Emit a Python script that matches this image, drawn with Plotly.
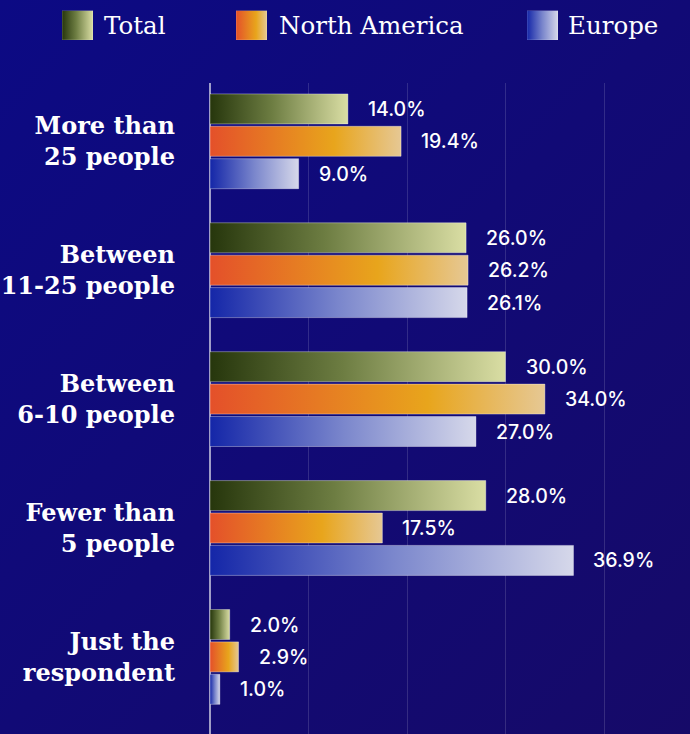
import base64
import plotly.graph_objects as go

# Survey: team size of respondents (share of respondents, %)
categories = [
    "More than<br>25 people",
    "Between<br>11-25 people",
    "Between<br>6-10 people",
    "Fewer than<br>5 people",
    "Just the<br>respondent",
]
series_names = ["Total", "North America", "Europe"]
total = [14.0, 26.0, 30.0, 28.0, 2.0]
north_america = [19.4, 26.2, 34.0, 17.5, 2.9]
europe = [9.0, 26.1, 27.0, 36.9, 1.0]

series_values = [total, north_america, europe]
gradients = [
    [[0.0, "#26360c"], [0.45, "#6d7d42"], [1.0, "#dadea4"]],
    [[0.0, "#e4502a"], [0.65, "#e8a51c"], [1.0, "#e6c894"]],
    [[0.0, "#1426a8"], [0.5, "#7a86cc"], [1.0, "#d6d8ea"]],
]

W, H = 690, 734
M_L, M_T, M_R, M_B = 210, 83, 0, 0
PLOT_W, PLOT_H = W - M_L - M_R, H - M_T - M_B

GROUP_PX = 128.9      # pixels per category group
FIRST_PX = 141.3      # pixel row of the first group's centre
BAR_OFFSET = 32.4 / GROUP_PX   # vertical offset of each series inside a group
BAR_HALF = 15.0 / GROUP_PX     # half bar thickness (group units)

fig = go.Figure()

for s, (name, vals) in enumerate(zip(series_names, series_values)):
    off = (s - 1) * BAR_OFFSET
    for i, v in enumerate(vals):
        yc = i + off
        y0, y1 = yc - BAR_HALF, yc + BAR_HALF
        fig.add_trace(go.Scatter(
            x=[0, v, v, 0, 0],
            y=[y0, y0, y1, y1, y0],
            mode="lines",
            fill="toself",
            fillgradient=dict(type="horizontal", start=0, stop=v,
                              colorscale=gradients[s]),
            line=dict(color="rgba(255,255,255,0.35)", width=1),
            name=name,
            showlegend=False,
            hoverinfo="skip",
        ))
        fig.add_annotation(
            x=v, y=yc, xref="x", yref="y",
            text=f"{v:.1f}%",
            showarrow=False, xanchor="left", yanchor="middle",
            xshift=18,
            font=dict(family="Inter", size=19.5, color="white", weight=500),
        )


def svg_uri(svg):
    return "data:image/svg+xml;base64," + base64.b64encode(svg.encode()).decode()


def grad_svg(stops, w=100, h=100):
    st = "".join(f'<stop offset="{o*100:.0f}%" stop-color="{c}"/>' for o, c in stops)
    return (f'<svg xmlns="http://www.w3.org/2000/svg" width="{w}" height="{h}" '
            f'viewBox="0 0 {w} {h}" preserveAspectRatio="none">'
            f'<defs><linearGradient id="g" x1="0%" y1="0%" x2="100%" y2="0%">{st}</linearGradient></defs>'
            f'<rect width="{w}" height="{h}" fill="url(#g)" stroke="rgba(255,255,255,0.4)" stroke-width="2"/></svg>')


def px_x(px):
    return (px - M_L) / PLOT_W


def px_y(py):
    return 1 - (py - M_T) / PLOT_H


images = []
# page background
bg = ('<svg xmlns="http://www.w3.org/2000/svg" width="100" height="100" viewBox="0 0 100 100" '
      'preserveAspectRatio="none"><defs><linearGradient id="b" x1="0%" y1="0%" x2="100%" y2="100%">'
      '<stop offset="0%" stop-color="#0c0a84"/><stop offset="100%" stop-color="#160a68"/>'
      '</linearGradient></defs><rect width="100" height="100" fill="url(#b)"/></svg>')
images.append(dict(source=svg_uri(bg), xref="paper", yref="paper",
                   x=px_x(0), y=px_y(0), sizex=W / PLOT_W, sizey=H / PLOT_H,
                   xanchor="left", yanchor="top", sizing="stretch", layer="below"))

# legend swatches and labels
legend_x = [62, 236, 527]
label_x = [102, 277, 566]
for s, name in enumerate(series_names):
    images.append(dict(source=svg_uri(grad_svg(gradients[s])), xref="paper", yref="paper",
                       x=px_x(legend_x[s]), y=px_y(10.5), sizex=31 / PLOT_W, sizey=29.5 / PLOT_H,
                       xanchor="left", yanchor="top", sizing="stretch", layer="above"))
    fig.add_annotation(
        x=px_x(label_x[s]), y=px_y(25), xref="paper", yref="paper",
        text=name, showarrow=False, xanchor="left", yanchor="middle",
        font=dict(family="DejaVu Serif", size=24.5, color="white"),
    )

n = len(categories)
y_top = -(FIRST_PX - M_T) / GROUP_PX
y_bottom = y_top + PLOT_H / GROUP_PX

fig.update_layout(
    width=W, height=H,
    margin=dict(l=M_L, r=M_R, t=M_T, b=M_B, autoexpand=False),
    paper_bgcolor="#100a78",
    plot_bgcolor="rgba(0,0,0,0)",
    showlegend=False,
    images=images,
    xaxis=dict(
        range=[0, PLOT_W / 9.85],
        tickvals=[10, 20, 30, 40],
        showticklabels=False,
        showgrid=True, gridcolor="rgba(255,255,255,0.14)", gridwidth=1,
        zeroline=True, zerolinecolor="rgba(255,255,255,0.6)", zerolinewidth=2,
        showline=False, fixedrange=True,
    ),
    yaxis=dict(
        range=[y_bottom, y_top],
        tickvals=list(range(n)),
        ticktext=[f"<b>{c}</b>" for c in categories],
        tickfont=dict(family="DejaVu Serif", size=24, color="white"),
        ticklabelstandoff=34,
        showgrid=False, zeroline=False, showline=False, ticks="",
        automargin=False, fixedrange=True,
    ),
)

fig.write_html("out.html")
